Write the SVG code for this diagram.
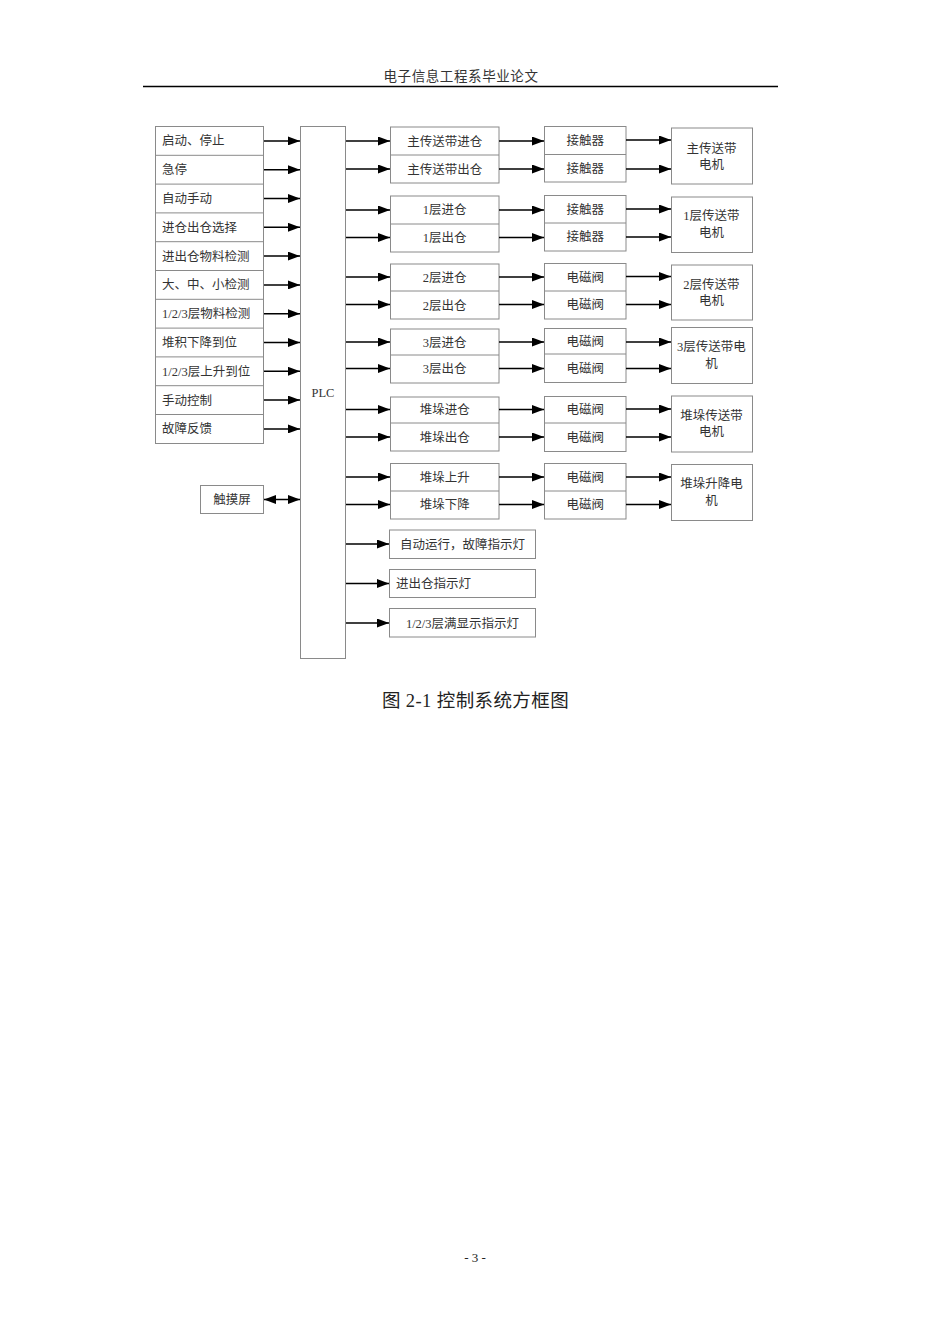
<svg xmlns="http://www.w3.org/2000/svg" width="950" height="1344" viewBox="0 0 950 1344">
<style>
.t{font-family:"Liberation Serif","Noto Sans CJK SC",serif;font-size:12.5px;fill:#333}
.c{text-anchor:middle}
.b{fill:#fff;stroke:#8a8a8a;stroke-width:1}
.d{stroke:#8a8a8a;stroke-width:1}
.a{stroke:#000;stroke-width:1.5;fill:none;marker-end:url(#ah)}
</style>
<defs>
<marker id="ah" markerUnits="userSpaceOnUse" markerWidth="12" markerHeight="9" refX="12" refY="4.5" orient="auto-start-reverse" viewBox="0 0 12 9">
<path d="M0,0 L12,4.5 L0,9 z" fill="#000"/>
</marker>
</defs>
<rect width="950" height="1344" fill="#fff"/>
<g id="header">
<text x="461" y="81" class="t c" style="font-size:13.5px;letter-spacing:0.6px">电子信息工程系毕业论文</text>
<line x1="143" y1="86.5" x2="778" y2="86.5" stroke="#000" stroke-width="1.5"/>
</g>
<g id="inputs">
<rect x="155.5" y="126.5" width="108" height="317" class="b"/>
<line x1="155.5" y1="155.3" x2="263.5" y2="155.3" class="d"/>
<line x1="155.5" y1="184.1" x2="263.5" y2="184.1" class="d"/>
<line x1="155.5" y1="212.9" x2="263.5" y2="212.9" class="d"/>
<line x1="155.5" y1="241.7" x2="263.5" y2="241.7" class="d"/>
<line x1="155.5" y1="270.5" x2="263.5" y2="270.5" class="d"/>
<line x1="155.5" y1="299.3" x2="263.5" y2="299.3" class="d"/>
<line x1="155.5" y1="328.1" x2="263.5" y2="328.1" class="d"/>
<line x1="155.5" y1="356.9" x2="263.5" y2="356.9" class="d"/>
<line x1="155.5" y1="385.7" x2="263.5" y2="385.7" class="d"/>
<line x1="155.5" y1="414.5" x2="263.5" y2="414.5" class="d"/>
<text x="162" y="145.4" class="t">启动、停止</text>
<text x="162" y="174.2" class="t">急停</text>
<text x="162" y="203" class="t">自动手动</text>
<text x="162" y="231.8" class="t">进仓出仓选择</text>
<text x="162" y="260.6" class="t">进出仓物料检测</text>
<text x="162" y="289.4" class="t">大、中、小检测</text>
<text x="162" y="318.2" class="t">1/2/3层物料检测</text>
<text x="162" y="347" class="t">堆积下降到位</text>
<text x="162" y="375.8" class="t">1/2/3层上升到位</text>
<text x="162" y="404.6" class="t">手动控制</text>
<text x="162" y="433.4" class="t">故障反馈</text>
</g>
<g id="touch">
<rect x="200.5" y="485.5" width="63" height="28" class="b"/>
<text x="232" y="503.5" class="t c">触摸屏</text>
</g>
<g id="plc">
<rect x="300.5" y="126.5" width="45" height="532" class="b"/>
<text x="323" y="397" class="t c">PLC</text>
</g>
<g id="signals">
<rect x="390.5" y="127" width="108.5" height="56" class="b"/><line x1="390.5" y1="155" x2="499" y2="155" class="d"/>
<text x="444.7" y="145.5" class="t c">主传送带进仓</text><text x="444.7" y="173.5" class="t c">主传送带出仓</text>
<rect x="390.5" y="196" width="108.5" height="56" class="b"/><line x1="390.5" y1="224" x2="499" y2="224" class="d"/>
<text x="444.7" y="214" class="t c">1层进仓</text><text x="444.7" y="242" class="t c">1层出仓</text>
<rect x="390.5" y="264" width="108.5" height="55" class="b"/><line x1="390.5" y1="291" x2="499" y2="291" class="d"/>
<text x="444.7" y="282" class="t c">2层进仓</text><text x="444.7" y="309.5" class="t c">2层出仓</text>
<rect x="390.5" y="329" width="108.5" height="54" class="b"/><line x1="390.5" y1="355" x2="499" y2="355" class="d"/>
<text x="444.7" y="346.5" class="t c">3层进仓</text><text x="444.7" y="373" class="t c">3层出仓</text>
<rect x="390.5" y="397" width="108.5" height="54" class="b"/><line x1="390.5" y1="423" x2="499" y2="423" class="d"/>
<text x="444.7" y="414" class="t c">堆垛进仓</text><text x="444.7" y="441.5" class="t c">堆垛出仓</text>
<rect x="390.5" y="463.5" width="108.5" height="55.5" class="b"/><line x1="390.5" y1="491" x2="499" y2="491" class="d"/>
<text x="444.7" y="481.5" class="t c">堆垛上升</text><text x="444.7" y="509" class="t c">堆垛下降</text>
</g>
<g id="actuators">
<rect x="544.5" y="126.5" width="81.5" height="55.5" class="b"/><line x1="544.5" y1="154.5" x2="626" y2="154.5" class="d"/>
<text x="585.2" y="144.5" class="t c">接触器</text><text x="585.2" y="172.5" class="t c">接触器</text>
<rect x="544.5" y="195.5" width="81.5" height="55.5" class="b"/><line x1="544.5" y1="223" x2="626" y2="223" class="d"/>
<text x="585.2" y="213.5" class="t c">接触器</text><text x="585.2" y="241" class="t c">接触器</text>
<rect x="544.5" y="263.5" width="81.5" height="55.5" class="b"/><line x1="544.5" y1="291" x2="626" y2="291" class="d"/>
<text x="585.2" y="281.5" class="t c">电磁阀</text><text x="585.2" y="309" class="t c">电磁阀</text>
<rect x="544.5" y="328.5" width="81.5" height="54" class="b"/><line x1="544.5" y1="354" x2="626" y2="354" class="d"/>
<text x="585.2" y="346" class="t c">电磁阀</text><text x="585.2" y="372.5" class="t c">电磁阀</text>
<rect x="544.5" y="396.5" width="81.5" height="55" class="b"/><line x1="544.5" y1="423" x2="626" y2="423" class="d"/>
<text x="585.2" y="414" class="t c">电磁阀</text><text x="585.2" y="441.5" class="t c">电磁阀</text>
<rect x="544.5" y="463.5" width="81.5" height="55.5" class="b"/><line x1="544.5" y1="491" x2="626" y2="491" class="d"/>
<text x="585.2" y="481.5" class="t c">电磁阀</text><text x="585.2" y="509" class="t c">电磁阀</text>
</g>
<g id="motors">
<rect x="671.5" y="128" width="81" height="56" class="b"/>
<text x="711.5" y="152.5" class="t c">主传送带</text><text x="711.5" y="168.5" class="t c">电机</text>
<rect x="671.5" y="197" width="81" height="55.5" class="b"/>
<text x="711.5" y="220" class="t c">1层传送带</text><text x="711.5" y="237" class="t c">电机</text>
<rect x="671.5" y="265" width="81" height="55" class="b"/>
<text x="711.5" y="288.5" class="t c">2层传送带</text><text x="711.5" y="305" class="t c">电机</text>
<rect x="671.5" y="327.5" width="81" height="56" class="b"/>
<text x="711.5" y="351" class="t c">3层传送带电</text><text x="711.5" y="368" class="t c">机</text>
<rect x="671.5" y="396" width="81" height="56" class="b"/>
<text x="711.5" y="419.5" class="t c">堆垛传送带</text><text x="711.5" y="436" class="t c">电机</text>
<rect x="671.5" y="464.5" width="81" height="56" class="b"/>
<text x="711.5" y="487.5" class="t c">堆垛升降电</text><text x="711.5" y="504.5" class="t c">机</text>
</g>
<g id="lamps">
<rect x="389.5" y="530" width="146" height="28.5" class="b"/>
<text x="462.5" y="548.5" class="t c">自动运行，故障指示灯</text>
<rect x="389.5" y="569.5" width="146" height="28" class="b"/>
<text x="396" y="588" class="t">进出仓指示灯</text>
<rect x="389.5" y="608.5" width="146" height="28.5" class="b"/>
<text x="462.5" y="627.5" class="t c">1/2/3层满显示指示灯</text>
</g>
<g id="connectors">
<line x1="264" y1="140.9" x2="300" y2="140.9" class="a"/>
<line x1="264" y1="169.7" x2="300" y2="169.7" class="a"/>
<line x1="264" y1="198.5" x2="300" y2="198.5" class="a"/>
<line x1="264" y1="227.3" x2="300" y2="227.3" class="a"/>
<line x1="264" y1="256.1" x2="300" y2="256.1" class="a"/>
<line x1="264" y1="284.9" x2="300" y2="284.9" class="a"/>
<line x1="264" y1="313.7" x2="300" y2="313.7" class="a"/>
<line x1="264" y1="342.5" x2="300" y2="342.5" class="a"/>
<line x1="264" y1="371.3" x2="300" y2="371.3" class="a"/>
<line x1="264" y1="400.1" x2="300" y2="400.1" class="a"/>
<line x1="264" y1="428.9" x2="300" y2="428.9" class="a"/>
<line x1="264" y1="499.5" x2="300" y2="499.5" class="a" style="marker-start:url(#ah)"/>
<line x1="346" y1="141" x2="390" y2="141" class="a"/>
<line x1="346" y1="169" x2="390" y2="169" class="a"/>
<line x1="346" y1="210" x2="390" y2="210" class="a"/>
<line x1="346" y1="237.5" x2="390" y2="237.5" class="a"/>
<line x1="346" y1="277" x2="390" y2="277" class="a"/>
<line x1="346" y1="304.5" x2="390" y2="304.5" class="a"/>
<line x1="346" y1="342" x2="390" y2="342" class="a"/>
<line x1="346" y1="368.5" x2="390" y2="368.5" class="a"/>
<line x1="346" y1="409.5" x2="390" y2="409.5" class="a"/>
<line x1="346" y1="437" x2="390" y2="437" class="a"/>
<line x1="346" y1="477" x2="390" y2="477" class="a"/>
<line x1="346" y1="504.5" x2="390" y2="504.5" class="a"/>
<line x1="346" y1="544" x2="389" y2="544" class="a"/>
<line x1="346" y1="583.5" x2="389" y2="583.5" class="a"/>
<line x1="346" y1="623" x2="389" y2="623" class="a"/>
<line x1="499" y1="141" x2="544" y2="141" class="a"/>
<line x1="499" y1="169" x2="544" y2="169" class="a"/>
<line x1="499" y1="210" x2="544" y2="210" class="a"/>
<line x1="499" y1="237.5" x2="544" y2="237.5" class="a"/>
<line x1="499" y1="277" x2="544" y2="277" class="a"/>
<line x1="499" y1="304.5" x2="544" y2="304.5" class="a"/>
<line x1="499" y1="342" x2="544" y2="342" class="a"/>
<line x1="499" y1="368.5" x2="544" y2="368.5" class="a"/>
<line x1="499" y1="409.5" x2="544" y2="409.5" class="a"/>
<line x1="499" y1="437" x2="544" y2="437" class="a"/>
<line x1="499" y1="477" x2="544" y2="477" class="a"/>
<line x1="499" y1="504.5" x2="544" y2="504.5" class="a"/>
<line x1="626" y1="140" x2="671" y2="140" class="a"/>
<line x1="626" y1="169" x2="671" y2="169" class="a"/>
<line x1="626" y1="209" x2="671" y2="209" class="a"/>
<line x1="626" y1="237" x2="671" y2="237" class="a"/>
<line x1="626" y1="276.5" x2="671" y2="276.5" class="a"/>
<line x1="626" y1="304.5" x2="671" y2="304.5" class="a"/>
<line x1="626" y1="342" x2="671" y2="342" class="a"/>
<line x1="626" y1="368.5" x2="671" y2="368.5" class="a"/>
<line x1="626" y1="409" x2="671" y2="409" class="a"/>
<line x1="626" y1="437" x2="671" y2="437" class="a"/>
<line x1="626" y1="477" x2="671" y2="477" class="a"/>
<line x1="626" y1="504.5" x2="671" y2="504.5" class="a"/>
</g>
<g id="caption">
<text x="475.5" y="706.5" class="t c" style="font-size:18.5px;letter-spacing:0.4px;fill:#222">图 2-1 控制系统方框图</text>
<text x="475" y="1262" class="t c" style="font-size:13px;fill:#222">- 3 -</text>
</g>
</svg>
